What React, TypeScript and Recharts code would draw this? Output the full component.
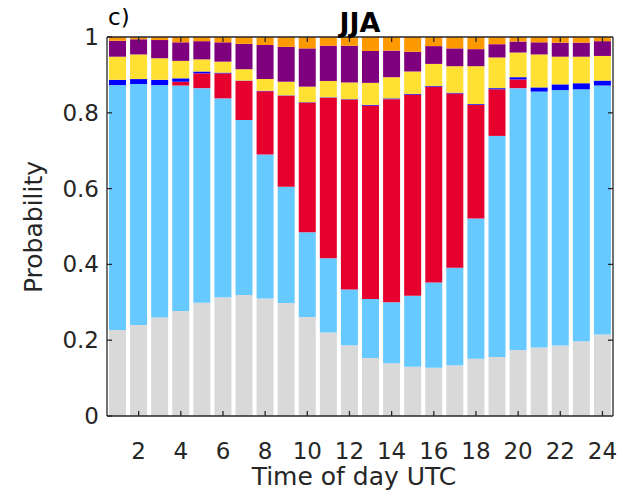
import { BarChart, Bar, XAxis, YAxis } from 'recharts';

const hours = [1, 2, 3, 4, 5, 6, 7, 8, 9, 10, 11, 12, 13, 14, 15, 16, 17, 18, 19, 20, 21, 22, 23, 24];
const gray = [0.227, 0.24, 0.26, 0.277, 0.299, 0.313, 0.319, 0.31, 0.298, 0.261, 0.22, 0.187, 0.153, 0.139, 0.13, 0.127, 0.134, 0.151, 0.156, 0.174, 0.181, 0.186, 0.197, 0.215];
const lightBlue = [0.646, 0.636, 0.613, 0.595, 0.566, 0.525, 0.462, 0.38, 0.307, 0.224, 0.196, 0.147, 0.156, 0.161, 0.187, 0.225, 0.257, 0.37, 0.583, 0.691, 0.675, 0.674, 0.665, 0.657];
const red = [0, 0, 0, 0.01, 0.039, 0.066, 0.103, 0.167, 0.24, 0.342, 0.424, 0.501, 0.51, 0.536, 0.531, 0.517, 0.46, 0.3, 0.123, 0.023, 0, 0, 0, 0];
const darkBlue = [0.014, 0.013, 0.014, 0.009, 0.005, 0.002, 0.001, 0.001, 0.001, 0.001, 0.001, 0.001, 0.002, 0.002, 0.002, 0.002, 0.002, 0.002, 0.003, 0.006, 0.011, 0.015, 0.016, 0.013];
const yellow = [0.061, 0.065, 0.057, 0.046, 0.032, 0.029, 0.03, 0.031, 0.036, 0.041, 0.043, 0.044, 0.058, 0.056, 0.059, 0.058, 0.07, 0.1, 0.081, 0.065, 0.087, 0.073, 0.07, 0.065];
const purple = [0.042, 0.04, 0.048, 0.049, 0.048, 0.051, 0.067, 0.09, 0.092, 0.101, 0.093, 0.097, 0.084, 0.07, 0.052, 0.047, 0.047, 0.045, 0.035, 0.029, 0.032, 0.037, 0.037, 0.039];
const orange = [0.01, 0.006, 0.008, 0.014, 0.011, 0.014, 0.018, 0.021, 0.026, 0.03, 0.023, 0.023, 0.037, 0.036, 0.039, 0.024, 0.03, 0.032, 0.019, 0.012, 0.014, 0.015, 0.015, 0.011];

const yTicks = [0, 0.2, 0.4, 0.6, 0.8, 1];

const data = hours.map((h, i) => ({
  hour: h,
  gray: gray[i],
  lightBlue: lightBlue[i],
  red: red[i],
  darkBlue: darkBlue[i],
  yellow: yellow[i],
  purple: purple[i],
  orange: orange[i],
}));

const series = [
  { key: 'gray', color: '#d9d9d9' },
  { key: 'lightBlue', color: '#66c9ff' },
  { key: 'red', color: '#e6002e' },
  { key: 'darkBlue', color: '#0000ff' },
  { key: 'yellow', color: '#ffe033' },
  { key: 'purple', color: '#7f007f' },
  { key: 'orange', color: '#ff9900' },
];

const AX = '#262626';
const FONT = '"DejaVu Sans", sans-serif';
const axisLine = { stroke: AX, strokeWidth: 1.3 };

// ticks point inward, like the MATLAB box
const BottomTick = (props: any) => {
  const { x, y, payload } = props;
  if (payload.value % 2 !== 0) return <g />;
  return (
    <g>
      <line x1={x} y1={y} x2={x} y2={y - 5} stroke={AX} strokeWidth={1.3} />
      <text x={x} y={y + 43} textAnchor="middle" fill={AX} fontSize={23} fontFamily={FONT}>
        {payload.value}
      </text>
    </g>
  );
};

const TopTick = (props: any) => {
  const { x, y, payload } = props;
  if (payload.value % 2 !== 0) return <g />;
  return <line x1={x} y1={y} x2={x} y2={y + 5} stroke={AX} strokeWidth={1.3} />;
};

const LeftTick = (props: any) => {
  const { x, y, payload } = props;
  return (
    <g>
      <line x1={x} y1={y} x2={x + 5} y2={y} stroke={AX} strokeWidth={1.3} />
      <text x={x - 8} y={y + 8} textAnchor="end" fill={AX} fontSize={23} fontFamily={FONT}>
        {String(payload.value)}
      </text>
    </g>
  );
};

const RightTick = (props: any) => {
  const { x, y, payload } = props;
  if (payload.value === 0 || payload.value === 1) return <g />;
  return <line x1={x} y1={y} x2={x - 5} y2={y} stroke={AX} strokeWidth={1.3} />;
};

export default function App() {
  return (
    <div style={{ position: 'relative', width: 614, height: 483 }}>
      <BarChart
        width={614}
        height={483}
        data={data}
        margin={{ top: 0, right: 0, left: 0, bottom: 0 }}
        barSize={17}
      >
        <XAxis
          dataKey="hour"
          height={75}
          tickSize={0}
          tickMargin={0}
          interval={0}
          tick={<BottomTick />}
          axisLine={axisLine}
          tickLine={false}
        />
        <XAxis
          xAxisId="top"
          orientation="top"
          dataKey="hour"
          height={29}
          tickSize={0}
          tickMargin={0}
          interval={0}
          tick={<TopTick />}
          axisLine={axisLine}
          tickLine={false}
        />
        <YAxis
          type="number"
          domain={[0, 1]}
          ticks={yTicks}
          width={99}
          tickSize={0}
          tickMargin={0}
          tick={<LeftTick />}
          axisLine={axisLine}
          tickLine={false}
          allowDataOverflow
        />
        <YAxis
          yAxisId="right"
          orientation="right"
          type="number"
          domain={[0, 1]}
          ticks={yTicks}
          width={9}
          tickSize={0}
          tickMargin={0}
          tick={<RightTick />}
          axisLine={axisLine}
          tickLine={false}
          allowDataOverflow
        />
        {series.map((s) => (
          <Bar key={s.key} dataKey={s.key} stackId="a" fill={s.color} isAnimationActive={false} />
        ))}
      </BarChart>
      <svg
        width={630}
        height={499}
        style={{ position: 'absolute', left: -8, top: -8, pointerEvents: 'none' }}
      >
        <text x={108} y={25} fontSize={23} fontFamily={FONT} fill="#000">
          c)
        </text>
        <text x={360} y={32} fontSize={27} fontWeight="bold" fontFamily={FONT} fill="#000" textAnchor="middle">
          JJA
        </text>
        <text
          x={42}
          y={227}
          transform="rotate(-90 42 227)"
          fontSize={25}
          fontFamily={FONT}
          fill={AX}
          textAnchor="middle"
        >
          Probability
        </text>
        <text x={354} y={485} fontSize={25} fontFamily={FONT} fill={AX} textAnchor="middle">
          Time of day UTC
        </text>
      </svg>
    </div>
  );
}
